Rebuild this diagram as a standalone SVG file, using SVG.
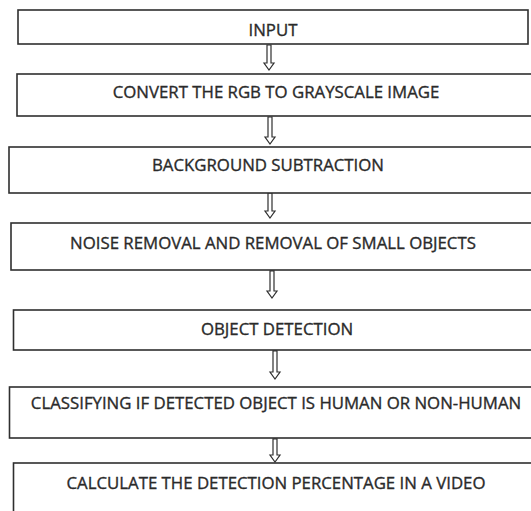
<svg xmlns="http://www.w3.org/2000/svg" width="531" height="511" viewBox="0 0 531 511">
<style>
.box{fill:#fff;stroke:#2f2f2f;stroke-width:1.6}
.lbl{font-family:"Open Sans","Liberation Sans",sans-serif;font-size:16.8px;fill:#2a2a2a;stroke:#2a2a2a;stroke-width:0.35;text-anchor:middle}
.arr{fill:#fff;stroke:#2f2f2f;stroke-width:1.2;stroke-linejoin:miter}
</style>
<rect width="531" height="511" fill="#fff"/>
<g id="connectors">
<path class="arr" d="M267,45 V63 H264 L269,70 L274,63 H271 V45 Z"/>
<path class="arr" d="M268,117 V137 H265 L270,144 L275,137 H272 V117 Z"/>
<path class="arr" d="M268,193 V211 H265 L270,218 L275,211 H272 V193 Z"/>
<path class="arr" d="M270,270.8 V291 H267 L272,298 L277,291 H274 V270.8 Z"/>
<path class="arr" d="M273,350.8 V372 H270 L275,379 L280,372 H277 V350.8 Z"/>
<path class="arr" d="M273,438.8 V455 H270 L275,462 L280,455 H277 V438.8 Z"/>
</g>
<g id="n1"><rect class="box" x="18" y="10" width="510" height="34"/><text class="lbl" x="273" y="35.5">INPUT</text></g>
<g id="n2"><rect class="box" x="17" y="74" width="520" height="42"/><text class="lbl" x="276" y="98">CONVERT THE RGB TO GRAYSCALE IMAGE</text></g>
<g id="n3"><rect class="box" x="9" y="147" width="530" height="46"/><text class="lbl" x="268" y="171">BACKGROUND SUBTRACTION</text></g>
<g id="n4"><rect class="box" x="11" y="223" width="530" height="47"/><text class="lbl" x="273" y="249">NOISE REMOVAL AND REMOVAL OF SMALL OBJECTS</text></g>
<g id="n5"><rect class="box" x="13.5" y="310" width="530" height="40"/><text class="lbl" x="277" y="335">OBJECT DETECTION</text></g>
<g id="n6"><rect class="box" x="9.5" y="387" width="530" height="51"/><text class="lbl" x="276" y="409">CLASSIFYING IF DETECTED OBJECT IS HUMAN OR NON-HUMAN</text></g>
<g id="n7"><rect class="box" x="13.5" y="463" width="530" height="60"/><text class="lbl" x="276" y="489">CALCULATE THE DETECTION PERCENTAGE IN A VIDEO</text></g>
</svg>
